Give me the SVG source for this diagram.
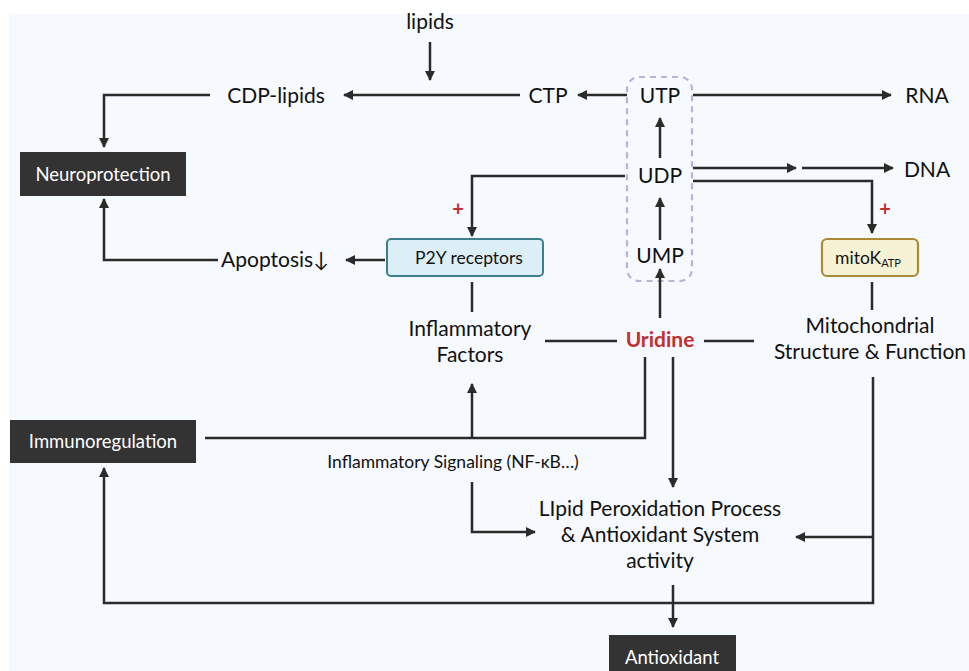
<svg xmlns="http://www.w3.org/2000/svg" width="969" height="671" viewBox="0 0 969 671">
<defs>
<marker id="ah" viewBox="0 0 10 10" refX="9" refY="5" markerWidth="10" markerHeight="10" markerUnits="userSpaceOnUse" orient="auto">
<path d="M0,0 L10,5 L0,10 z" fill="#2b2b2b"/>
</marker>
<style>
text{font-family:Lato,"Open Sans","Liberation Sans",sans-serif;fill:#111;text-anchor:middle}
.t{font-size:21px}
.s{font-size:17.5px}
.w{fill:#fff;font-size:18.5px}
.dark{fill:#333333}
.c path,.c line{stroke:#2b2b2b;stroke-width:2.5;fill:none}
.a{marker-end:url(#ah)}
.plus{fill:#c62e2e;font-size:20px;font-weight:bold}
</style>
</defs>
<rect x="0" y="0" width="969" height="671" fill="#ffffff"/>
<rect x="9" y="14" width="960" height="657" fill="#f6f9fd"/>

<g id="uridine-box">
<rect x="627" y="77" width="65" height="204" rx="12" fill="none" stroke="#b9b2dc" stroke-width="2.2" stroke-dasharray="6,5"/>
</g>

<g id="connectors" class="c">
<line x1="430" y1="42" x2="430" y2="80" class="a"/>
<line x1="627" y1="95" x2="578" y2="95" class="a"/>
<line x1="520" y1="95" x2="344" y2="95" class="a"/>
<line x1="693" y1="95" x2="891" y2="95" class="a"/>
<path d="M210,95 H104 V147" class="a"/>
<path d="M218,260 H104 V199" class="a"/>
<line x1="385" y1="260" x2="346" y2="260" class="a"/>
<path d="M625,176 H472 V236" class="a"/>
<line x1="660" y1="158" x2="660" y2="118" class="a"/>
<line x1="660" y1="240" x2="660" y2="198" class="a"/>
<line x1="660" y1="318" x2="660" y2="269" class="a"/>
<line x1="693" y1="168" x2="796" y2="168" class="a"/>
<line x1="802" y1="168" x2="893" y2="168" class="a"/>
<path d="M693,181 H872 V233" class="a"/>
<line x1="872" y1="282" x2="872" y2="310"/>
<line x1="472" y1="282" x2="472" y2="312"/>
<line x1="545" y1="341" x2="617" y2="341"/>
<line x1="704" y1="341" x2="754" y2="341"/>
<path d="M645,357 V438 H205"/>
<line x1="472" y1="438" x2="472" y2="384" class="a"/>
<path d="M472,482 V532 H535" class="a"/>
<line x1="673" y1="357" x2="673" y2="487" class="a"/>
<path d="M873,377 V603 H104 V468" class="a"/>
<line x1="873" y1="537" x2="796" y2="537" class="a"/>
<line x1="673" y1="585" x2="673" y2="627" class="a"/>
</g>

<g id="lipids"><text class="t" x="430" y="29">lipids</text></g>
<g id="cdp-lipids"><text class="t" x="276" y="103">CDP-lipids</text></g>
<g id="ctp"><text class="t" x="548" y="103">CTP</text></g>
<g id="utp"><text class="t" x="660" y="103">UTP</text></g>
<g id="rna"><text class="t" x="927" y="103">RNA</text></g>
<g id="udp"><text class="t" x="660" y="183">UDP</text></g>
<g id="dna"><text class="t" x="927" y="177">DNA</text></g>
<g id="ump"><text class="t" x="660" y="263">UMP</text></g>

<g id="neuroprotection">
<rect class="dark" x="20" y="152" width="166" height="44"/>
<text class="w" x="103" y="181">Neuroprotection</text>
</g>

<g id="apoptosis"><text class="t" x="275" y="267">Apoptosis↓</text></g>

<g id="p2y">
<rect x="387" y="239" width="156" height="37" rx="4" fill="#ddeff6" stroke="#3d7f8c" stroke-width="2"/>
<text x="469" y="264" style="font-size:17.5px">P2Y receptors</text>
</g>
<text class="plus" x="458" y="216">+</text>

<g id="mitokatp">
<rect x="822" y="239" width="96" height="37" rx="5" fill="#f6f2d5" stroke="#a98b36" stroke-width="2.2"/>
<text x="868" y="264" style="font-size:17.5px">mitoK<tspan style="font-size:11px" dy="3">ATP</tspan></text>
</g>
<text class="plus" x="885" y="216">+</text>

<g id="inflammatory-factors">
<text class="t" x="470" y="336">Inflammatory</text>
<text class="t" x="470" y="362">Factors</text>
</g>
<g id="uridine"><text x="660" y="347" style="font-size:21px;font-weight:bold;fill:#c23030">Uridine</text></g>
<g id="mitochondrial">
<text class="t" x="870" y="333">Mitochondrial</text>
<text class="t" x="870" y="359">Structure &amp; Function</text>
</g>

<g id="immunoregulation">
<rect class="dark" x="10" y="420" width="186" height="43"/>
<text class="w" x="103" y="448">Immunoregulation</text>
</g>
<g id="inflammatory-signaling"><text class="s" x="453" y="468">Inflammatory Signaling (NF-κB…)</text></g>

<g id="lipid-peroxidation">
<text class="t" x="660" y="516">LIpid Peroxidation Process</text>
<text class="t" x="660" y="542">&amp; Antioxidant System</text>
<text class="t" x="660" y="568">activity</text>
</g>

<g id="antioxidant">
<rect class="dark" x="609" y="635" width="127" height="40"/>
<text class="w" x="672" y="664">Antioxidant</text>
</g>
</svg>
